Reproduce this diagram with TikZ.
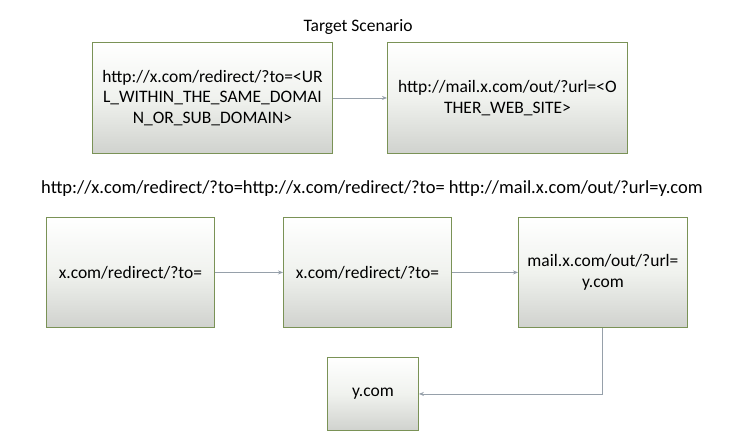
\documentclass[tikz,border=0pt]{standalone}
\usepackage{fontspec}
\setmainfont{Carlito}
\usetikzlibrary{arrows.meta}
\definecolor{boxline}{RGB}{122,146,86}
\definecolor{boxbot}{RGB}{208,210,206}
\definecolor{boxmid}{RGB}{240,242,238}
\definecolor{arrowc}{RGB}{150,160,170}
\tikzset{
  box/.style={draw=boxline, line width=0.9pt, top color=white, bottom color=boxbot, middle color=boxmid, shading angle=0, anchor=north west, inner sep=0pt, align=center, font=\fontsize{17.5}{20.5}\selectfont},
  conn/.style={draw=arrowc, line width=0.8pt, -{Stealth[length=5pt,width=4pt]}},
  lbl/.style={font=\fontsize{18.5}{20.5}\selectfont, inner sep=0pt}
}
\begin{document}
\begin{tikzpicture}[x=1pt,y=-1pt]
\useasboundingbox[fill=white] (0,0) rectangle (737,444);
\node[lbl, font=\fontsize{17.5}{20.5}\selectfont] (title) at (358,27) {Target Scenario};
\node[box, minimum width=240pt, minimum height=111pt] (b1) at (92,42) {http://x.com/redirect/?to=<UR\\L\_WITHIN\_THE\_SAME\_DOMAI\\N\_OR\_SUB\_DOMAIN>};
\node[box, minimum width=240pt, minimum height=111pt] (b2) at (387,42) {http://mail.x.com/out/?url=<O\\THER\_WEB\_SITE>};
\node[lbl] (long) at (372,189) {http://x.com/redirect/?to=http://x.com/redirect/?to= http://mail.x.com/out/?url=y.com};
\node[box, minimum width=168pt, minimum height=110pt] (c1) at (46,217) {x.com/redirect/?to=};
\node[box, minimum width=168pt, minimum height=110pt] (c2) at (283,217) {x.com/redirect/?to=};
\node[box, minimum width=169pt, minimum height=110pt] (c3) at (518,217) {mail.x.com/out/?url=\\y.com};
\node[box, minimum width=91pt, minimum height=73pt] (d1) at (327,357) {y.com};
\draw[conn] (b1.east) -- (b2.west);
\draw[conn] (c1.east) -- (c2.west);
\draw[conn] (c2.east) -- (c3.west);
\draw[conn] ([xshift=-0.5pt]c3.south) |- (d1.east);
\end{tikzpicture}
\end{document}
